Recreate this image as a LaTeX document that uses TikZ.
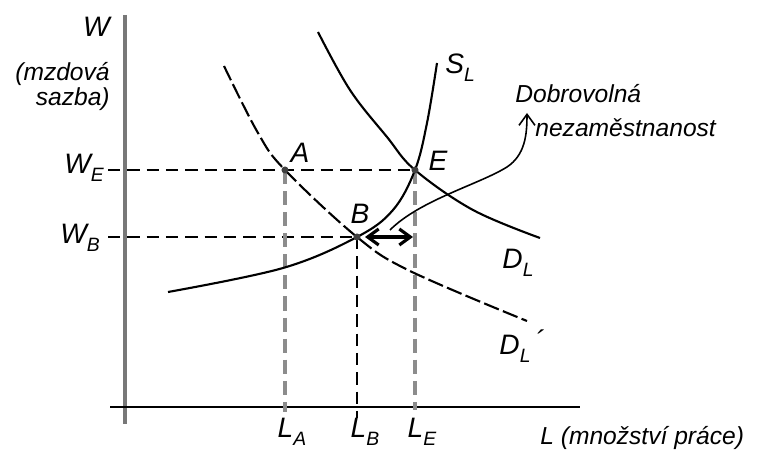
\documentclass[tikz,border=0pt]{standalone}
\usepackage{fontspec}
\setmainfont{Liberation Sans}
\usetikzlibrary{arrows.meta,positioning,calc}
\definecolor{axisgray}{RGB}{120,120,120}
\definecolor{guidegray}{RGB}{140,140,140}
\newcommand{\lsub}[1]{\raisebox{-0.55ex}{\fontsize{11}{12}\selectfont #1}}

\begin{document}
\begin{tikzpicture}[
  x=0.02cm,y=-0.02cm,
  >={Straight Barb[length=2.2mm,width=3.2mm]},
  curve/.style ={line width=1.2pt},
  dcurve/.style={line width=1.2pt,dash pattern=on 9pt off 2.5pt},
  guide/.style ={line width=1.1pt,dash pattern=on 7pt off 4pt},
  gguide/.style={line width=2pt,guidegray,dash pattern=on 8pt off 4pt},
  lbl/.style   ={font=\itshape\fontsize{16}{18}\selectfont,inner sep=0pt},
  word/.style  ={font=\itshape\fontsize{14}{16}\selectfont,inner sep=0pt},
  pt/.style    ={circle,fill=black!75,inner sep=0pt,minimum size=4pt},
]
\useasboundingbox (0,0) rectangle (772,452);

%% ── Axes ─────────────────────────────────────────────────────────────────────
\coordinate (ytop) at (125,15);
\coordinate (ybot) at (125,424);
\coordinate (xl)   at (110,407);
\coordinate (xr)   at (580,407);
\draw[line width=2.2pt,axisgray] (ytop) -- (ybot);
\draw[line width=1.2pt] (xl) -- (xr);

%% ── Key points ───────────────────────────────────────────────────────────────
\coordinate (A) at (285,170);
\coordinate (B) at (357,237);
\coordinate (E) at (415,170);
\coordinate (wE) at (108,170);
\coordinate (wB) at (108,237);
\coordinate (lA) at (285,412);
\coordinate (lB) at (357,418);
\coordinate (lE) at (415,410);

%% ── Guide lines ──────────────────────────────────────────────────────────────
\draw[guide]  (wE) -- (E);
\draw[guide]  (wB) -- (B);
\draw[gguide] (A) -- (lA);
\draw[guide]  (B) -- (lB);
\draw[gguide] (E) -- (lE);

%% ── Curves: S_L, D_L, D_L' ───────────────────────────────────────────────────
\draw[curve] plot[smooth,tension=0.6] coordinates
  {(168,292) (283,268) (357,237) (393,210) (415,170) (427,123) (437,63)};
\draw[curve] plot[smooth,tension=0.6] coordinates
  {(318,32) (350,90) (387,137) (415,170) (473,210) (540,238)};
\draw[dcurve] plot[smooth,tension=0.6] coordinates
  {(224,66) (258,133) (285,170) (357,237) (410,271) (527,321)};

\node[pt] (ptA) at (A) {};
\node[pt] (ptB) at (B) {};
\node[pt] (ptE) at (E) {};

%% ── Unemployment gap and note arrow ──────────────────────────────────────────
\coordinate (gapL) at (365,237);
\coordinate (gapR) at (413,237);
\draw[<->,line width=1.8pt] (gapL) -- (gapR);

\coordinate (noteS) at (390,230);
\coordinate (noteM) at (507,167);
\coordinate (noteT) at (527,113);
\draw[->,line width=0.9pt] (noteS) .. controls (420,200) and (480,184) .. (noteM)
  .. controls (525,155) and (527,135) .. (noteT);

%% ── Labels ───────────────────────────────────────────────────────────────────
\node[lbl,anchor=east] (wlab) at (110,27) {W};
\node[word,anchor=north east,align=right] (wtext) at (110,62)
  {(mzdová\\[-2pt]sazba)};
\node[lbl] (wElab) at (84,168) {W\lsub{E}};
\node[lbl] (wBlab) at (80,238) {W\lsub{B}};
\node[lbl] (Alab) at (300,153) {A};
\node[lbl] (Blab) at (360,214) {B};
\node[lbl] (Elab) at (438,161) {E};
\node[lbl] (Slab) at (460,68) {S\lsub{L}};
\node[lbl] (Dlab) at (518,263) {D\lsub{L}};
\node[lbl] (D2lab) at (522,346) {D\lsub{L}\raisebox{0.3ex}{\,´}};
\node[lbl] (lAlab) at (292,432) {L\lsub{A}};
\node[lbl] (lBlab) at (365,432) {L\lsub{B}};
\node[lbl] (lElab) at (422,432) {L\lsub{E}};
\node[word,anchor=west] (xtext) at (540,438) {L (množství práce)};
\node[word,anchor=west] (note1) at (515,94) {Dobrovolná};
\node[word,anchor=west] (note2) at (535,128) {nezaměstnanost};

\end{tikzpicture}
\end{document}
